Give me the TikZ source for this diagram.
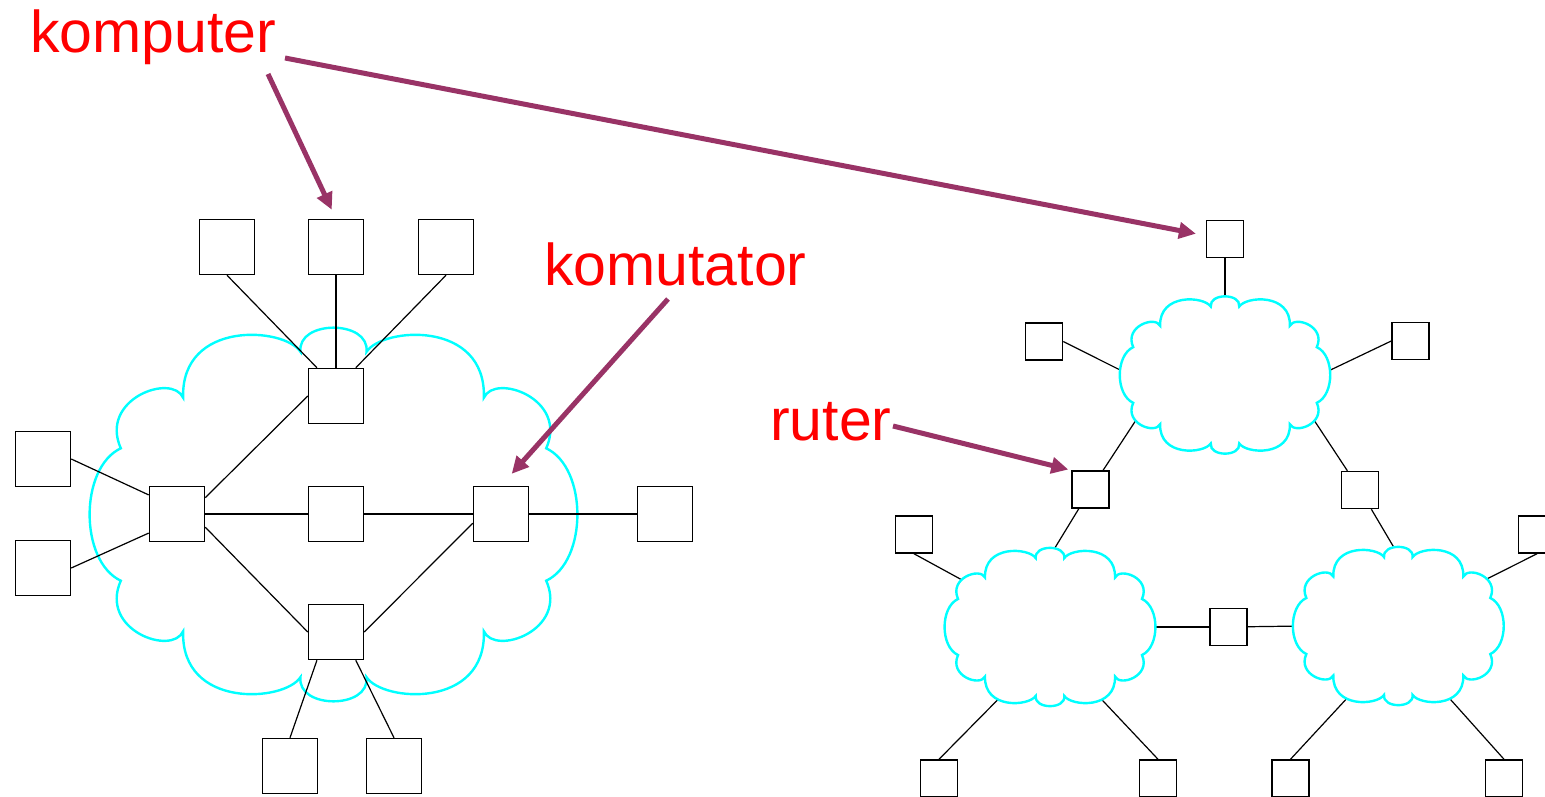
\documentclass[tikz,border=0pt]{standalone}
\usepackage{fontspec}
\setmainfont{Liberation Sans}
\usetikzlibrary{arrows.meta}
\definecolor{labelred}{HTML}{FF0000}
\definecolor{arrowpurple}{HTML}{993366}
\definecolor{cloudcyan}{HTML}{00FFFF}
\pgfdeclarelayer{background}
\pgfsetlayers{background,main}
\newcommand{\netcloud}[5]{%
  \begin{scope}[shift={(#2,#3)}, xscale=#4, yscale=#5]
    \draw[cloudcyan, line width=2.4pt, fill=white] (-0.135,-0.872)
      .. controls (-0.15,-1.045) and (0.15,-1.045) .. (0.135,-0.872)
      .. controls (0.2,-1.005) and (0.625,-1.045) .. (0.615,-0.626)
      .. controls (0.66,-0.76) and (0.96,-0.62) .. (0.87,-0.355)
      .. controls (1.04,-0.25) and (1.04,0.25) .. (0.87,0.355)
      .. controls (0.96,0.62) and (0.66,0.76) .. (0.615,0.626)
      .. controls (0.625,1.045) and (0.2,1.005) .. (0.135,0.872)
      .. controls (0.15,1.045) and (-0.15,1.045) .. (-0.135,0.872)
      .. controls (-0.2,1.005) and (-0.625,1.045) .. (-0.615,0.626)
      .. controls (-0.66,0.76) and (-0.96,0.62) .. (-0.87,0.355)
      .. controls (-1.04,0.25) and (-1.04,-0.25) .. (-0.87,-0.355)
      .. controls (-0.96,-0.62) and (-0.66,-0.76) .. (-0.615,-0.626)
      .. controls (-0.625,-1.045) and (-0.2,-1.005) .. (-0.135,-0.872)
      -- cycle;
    \coordinate (#1-n) at (0,-0.9);
    \coordinate (#1-e) at (0.9,0);
    \coordinate (#1-w) at (-0.9,0);
    \coordinate (#1-ne) at (0.77,-0.55);
    \coordinate (#1-nw) at (-0.77,-0.55);
    \coordinate (#1-se) at (0.8,0.485);
    \coordinate (#1-sw) at (-0.8,0.485);
    \coordinate (#1-sse) at (0.42,0.82);
    \coordinate (#1-ssw) at (-0.42,0.82);
  \end{scope}}
\begin{document}
\begin{tikzpicture}[x=1pt,y=-1pt]
        \tikzstyle{every node}+=[inner sep=0pt]
        \tikzstyle{bigbox}=[draw=black, line width=1.5pt, minimum size=55pt]
        \tikzstyle{smallbox}=[draw=black, line width=1.5pt, minimum size=37pt]
        \tikzstyle{link}=[black, line width=1.2pt]
        \tikzstyle{pointer}=[arrowpurple, line width=5pt, -{Triangle[length=17pt,width=16pt]}]
        \tikzstyle{tag}=[text=labelred, font=\fontsize{59}{61}\selectfont, anchor=base west]
        \useasboundingbox (0,0) rectangle (1545,797);
        \clip (0,0) rectangle (1545,797);
        \netcloud{cA}{333.5}{514.5}{244.5}{186.5}
        \node [bigbox] (pcA) at (227,247) {};
        \node [bigbox] (pcB) at (336,247) {};
        \node [bigbox] (pcC) at (446,247) {};
        \node [bigbox] (swTop) at (336,396) {};
        \node [bigbox] (swLeft) at (177,514) {};
        \node [bigbox] (swMid) at (336,514) {};
        \node [bigbox] (swRight) at (501,514) {};
        \node [bigbox] (swBot) at (336,632) {};
        \node [bigbox] (pcL1) at (43,459) {};
        \node [bigbox] (pcL2) at (43,568) {};
        \node [bigbox] (pcR) at (665,514) {};
        \node [bigbox] (pcB1) at (290,766) {};
        \node [bigbox] (pcB2) at (394,766) {};
        \draw [link] (pcA.south) -- (swTop.124);
        \draw [link] (pcB.south) -- (swTop.north);
        \draw [link] (pcC.south) -- (swTop.55);
        \draw [link] (swLeft.30) -- (swTop.west);
        \draw [link] (swLeft.east) -- (swMid.west);
        \draw [link] (swMid.east) -- (swRight.west);
        \draw [link] (swRight.east) -- (pcR.west);
        \draw [link] (swLeft.-25) -- (swBot.west);
        \draw [link] (swRight.198) -- (swBot.east);
        \draw [link] (pcL1.east) -- (swLeft.146);
        \draw [link] (pcL2.east) -- (swLeft.214);
        \draw [link] (swBot.-124) -- (pcB1.north);
        \draw [link] (swBot.-55) -- (pcB2.north);
        \netcloud{cT}{1225}{375}{105.5}{78.5}
        \netcloud{cL}{1050}{627}{105.7}{79}
        \netcloud{cR}{1398.3}{626}{105.7}{79}
        \node [smallbox] (pcTop) at (1225,239) {};
        \node [smallbox] (pcUL) at (1044,341.5) {};
        \node [smallbox] (pcUR) at (1410.5,341) {};
        \node [smallbox] (rtL) at (1090.5,489.5) {};
        \node [smallbox] (rtR) at (1360,490) {};
        \node [smallbox] (rtB) at (1228.6,627) {};
        \node [smallbox] (pcLL) at (914,534.5) {};
        \node [smallbox] (pcRR) at (1537,534.5) {};
        \node [smallbox] (pcBL1) at (939,778.5) {};
        \node [smallbox] (pcBL2) at (1158,778.5) {};
        \node [smallbox] (pcBR1) at (1290.5,778.5) {};
        \node [smallbox] (pcBR2) at (1504,778.5) {};
        \begin{pgfonlayer}{background}
        \draw [link] (pcTop.south) -- (cT-n);
        \draw [link] (pcUL.east) -- (cT-w);
        \draw [link] (pcUR.west) -- (cT-e);
        \draw [link] (cT-sw) -- (rtL);
        \draw [link] (cT-se) -- (rtR);
        \draw [link] (rtL) -- (cL-n);
        \draw [link] (rtR) -- (cR-n);
        \draw [link] (cL-e) -- (rtB);
        \draw [link] (rtB) -- (cR-w);
        \draw [link] (pcLL.south) -- (cL-nw);
        \draw [link] (pcRR.south) -- (cR-ne);
        \draw [link] (pcBL1.north) -- (cL-ssw);
        \draw [link] (pcBL2.north) -- (cL-sse);
        \draw [link] (pcBR1.north) -- (cR-ssw);
        \draw [link] (pcBR2.north) -- (cR-sse);
        \end{pgfonlayer}
        \node [tag] (lblKomp) at (30,53) {komputer};
        \node [tag] (lblKomu) at (544,285) {komutator};
        \node [tag] (lblRut) at (770,440.7) {ruter};
        \coordinate (kompTailA) at (268,74);
        \coordinate (kompTailB) at (285,58);
        \coordinate (komuTail) at (668,299);
        \coordinate (rutTail) at (893,426);
        \draw [pointer, shorten >=10pt] (kompTailA) -- (pcB.north);
        \draw [pointer, shorten >=10pt] (kompTailB) -- (pcTop.170);
        \draw [pointer, shorten >=16pt] (komuTail) -- (swRight.north);
        \draw [pointer, shorten >=3pt] (rutTail) -- (rtL.north west);
\end{tikzpicture}
\end{document}
